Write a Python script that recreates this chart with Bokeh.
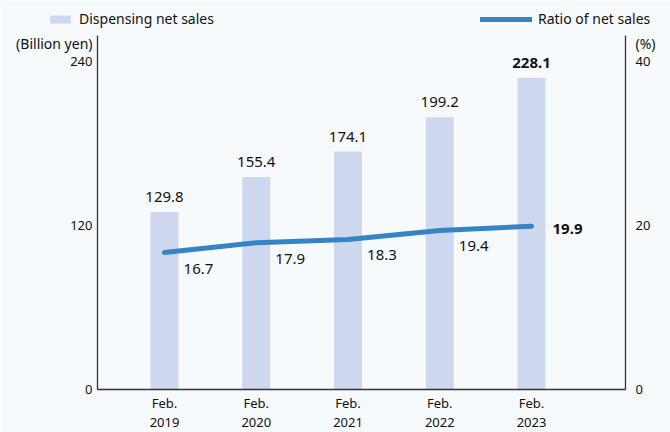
from bokeh.plotting import figure
from bokeh.models import (ColumnDataSource, Range1d, LinearAxis, FixedTicker,
                          Legend, LegendItem, Label)
from bokeh.core.properties import value
from bokeh.embed import file_html
from bokeh.resources import INLINE

# ---- data ----
categories = ["Feb.\n2019", "Feb.\n2020", "Feb.\n2021", "Feb.\n2022", "Feb.\n2023"]
sales = [129.8, 155.4, 174.1, 199.2, 228.1]          # billion yen
ratio = [16.7, 17.9, 18.3, 19.4, 19.9]               # %
sales_ticks = [0, 120, 240]
ratio_ticks = [0, 20, 40]

FONT = "Noto Sans"
BAR = "#cdd8ee"
LINE = "#3585c6"
AX = "#333333"
TXT = "#111111"
BG = "#f7fafd"

# ---- layout geometry (canvas pixels) ----
W, H = 670, 432
X0_PX, DX_PX = 164.0, 91.75          # first category centre, spacing
Y0_PX, PX_PER_UNIT = 389.0, 328.0 / 240.0
AX_L_PX, AX_R_PX, AX_T_PX = 97.0, 625.0, 35.0

def xd(px):
    return (px - X0_PX) / DX_PX

def yd(px):
    return (Y0_PX - px) / PX_PER_UNIT

RATIO_SCALE = 6.0   # 240 bn yen  <->  40 %

xs = list(range(len(categories)))
src = ColumnDataSource(dict(
    x=xs, sales=sales, ratio=ratio,
    sales_txt=[f"{v:.1f}" for v in sales],
    ratio_txt=[f"{v:.1f}" for v in ratio],
))

p = figure(width=W, height=H, output_backend="svg", toolbar_location=None,
           x_range=Range1d(xd(0), xd(W)), y_range=Range1d(yd(H), yd(0)),
           min_border=0, background_fill_color=BG, border_fill_color=BG,
           outline_line_color=None)
p.extra_y_ranges = {"ratio": Range1d(yd(H) / RATIO_SCALE, yd(0) / RATIO_SCALE)}
p.xgrid.visible = False
p.ygrid.visible = False
p.axis.visible = False

bars = p.vbar(x="x", top="sales", width=0.305, source=src, fill_color=BAR,
              line_color=None)
line = p.line(x="x", y="ratio", source=src, y_range_name="ratio",
              line_color=LINE, line_width=5, line_cap="round", line_join="round")

def sub(i0, i1):
    return ColumnDataSource({k: v[i0:i1] for k, v in src.data.items()})

s_norm = sub(0, 4)
s_last = sub(4, 5)
p.text(x="x", y="sales", text="sales_txt", source=s_norm, text_align="center",
       text_baseline="bottom", y_offset=-10, text_font=value(FONT),
       text_font_size="15px", text_color=TXT)
p.text(x="x", y="sales", text="sales_txt", source=s_last, text_align="center",
       text_baseline="bottom", y_offset=-10, text_font=value(FONT),
       text_font_size="15px", text_font_style="bold", text_color=TXT)
p.text(x="x", y="ratio", text="ratio_txt", source=s_norm, y_range_name="ratio",
       text_align="center", text_baseline="middle", x_offset=34, y_offset=16,
       text_font=value(FONT), text_font_size="15px", text_color=TXT)
p.text(x="x", y="ratio", text="ratio_txt", source=s_last, y_range_name="ratio",
       text_align="left", text_baseline="middle", x_offset=21, y_offset=3,
       text_font=value(FONT), text_font_size="15px", text_font_style="bold",
       text_color=TXT)

def style(ax, size="13px"):
    ax.axis_line_color = AX
    ax.axis_line_width = 1.3
    ax.major_tick_line_color = None
    ax.minor_tick_line_color = None
    ax.major_tick_out = 0
    ax.major_tick_in = 0
    ax.major_label_text_font = FONT
    ax.major_label_text_font_size = size
    ax.major_label_text_color = TXT

y_top = yd(AX_T_PX)
left = LinearAxis(ticker=FixedTicker(ticks=sales_ticks), fixed_location=xd(AX_L_PX),
                  bounds=(0, y_top))
style(left)
left.major_label_standoff = 5
p.add_layout(left, "left")

right = LinearAxis(y_range_name="ratio", ticker=FixedTicker(ticks=ratio_ticks),
                   fixed_location=xd(AX_R_PX), bounds=(0, y_top / RATIO_SCALE))
style(right)
right.major_label_standoff = 10
p.add_layout(right, "right")

bottom = LinearAxis(ticker=FixedTicker(ticks=xs), fixed_location=0,
                    bounds=(xd(AX_L_PX), xd(AX_R_PX)),
                    major_label_overrides={i: c for i, c in zip(xs, categories)})
style(bottom)
bottom.major_label_standoff = 4
bottom.major_label_text_line_height = 1.1
p.add_layout(bottom, "below")

# unit captions
p.add_layout(Label(x=xd(AX_L_PX), y=yd(43), text="(Billion yen)", x_offset=-5,
                   text_align="right", text_baseline="middle",
                   text_font=FONT, text_font_size="14px", text_color=TXT))
p.add_layout(Label(x=xd(AX_R_PX), y=yd(43), text="(%)", x_offset=10,
                   text_align="left", text_baseline="middle",
                   text_font=FONT, text_font_size="14px", text_color=TXT))

# legends
def mk_legend(item, loc, gw):
    return Legend(items=[item], location=loc, orientation="horizontal",
                  glyph_width=gw, glyph_height=10, label_height=10,
                  label_standoff=6, padding=0, margin=0, spacing=0,
                  border_line_color=None, background_fill_alpha=0,
                  label_text_font=FONT, label_text_font_size="14px",
                  label_text_color=TXT)

LEG_BOTTOM = H - 28
p.add_layout(mk_legend(LegendItem(label="Dispensing net sales", renderers=[bars]),
                       (47, LEG_BOTTOM), 26))
p.add_layout(mk_legend(LegendItem(label="Ratio of net sales", renderers=[line]),
                       (480, LEG_BOTTOM), 52))

open("out.html", "w").write(file_html(p, INLINE))
